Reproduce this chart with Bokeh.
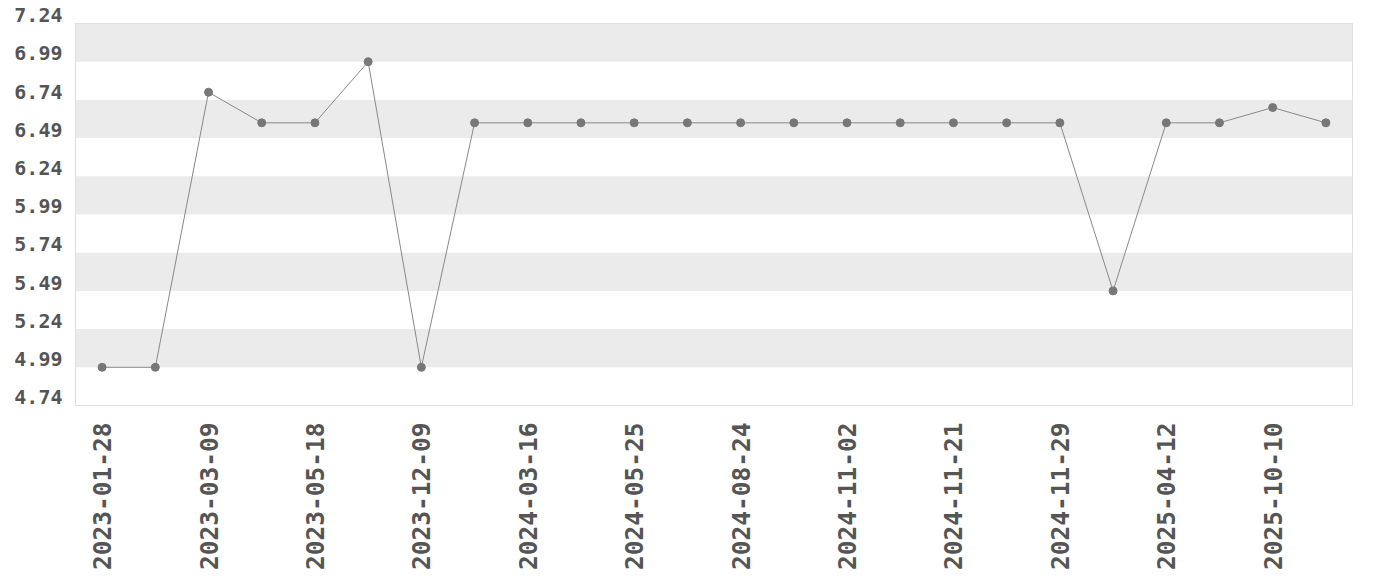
import math
from bokeh.plotting import figure
from bokeh.models import FixedTicker, BoxAnnotation, ColumnDataSource
from bokeh.embed import file_html
from bokeh.resources import INLINE

dates = ["2023-01-28", "2023-02-18", "2023-03-09", "2023-04-15", "2023-05-18", "2023-08-26",
         "2023-12-09", "2024-01-20", "2024-03-16", "2024-04-20", "2024-05-25", "2024-07-06",
         "2024-08-24", "2024-09-28", "2024-11-02", "2024-11-09", "2024-11-21", "2024-11-23",
         "2024-11-29", "2025-01-18", "2025-04-12", "2025-07-12", "2025-10-10", "2026-01-10"]
values = [4.99, 4.99, 6.79, 6.59, 6.59, 6.99,
          4.99, 6.59, 6.59, 6.59, 6.59, 6.59,
          6.59, 6.59, 6.59, 6.59, 6.59, 6.59,
          6.59, 5.49, 6.59, 6.59, 6.69, 6.59]
y_ticks = [4.74, 4.99, 5.24, 5.49, 5.74, 5.99, 6.24, 6.49, 6.74, 6.99, 7.24]

FONT = "DejaVu Sans Mono"
TXT = "#555555"

idx = list(range(len(dates)))
src = ColumnDataSource(dict(x=idx, y=values, date=dates))

p = figure(width=1372, height=578, x_range=(-0.5, len(dates) - 0.5),
           y_range=(y_ticks[0], y_ticks[-1]), output_backend="svg", toolbar_location=None,
           min_border_left=75, min_border_right=20, min_border_top=23, min_border_bottom=173)

p.outline_line_color = "#dddddd"
p.background_fill_color = "white"
p.xgrid.visible = False
p.ygrid.visible = False

for lo, hi in zip(y_ticks[1::2], y_ticks[2::2]):
    p.add_layout(BoxAnnotation(bottom=lo, top=hi, fill_color="#ebebeb", fill_alpha=1.0,
                               line_alpha=0, level="underlay"))

p.line("x", "y", source=src, line_color="#888888", line_width=1)
p.scatter("x", "y", source=src, size=8, fill_color="#777777", line_color="#777777")

for ax in (p.xaxis[0], p.yaxis[0]):
    ax.axis_line_color = None
    ax.major_tick_line_color = None
    ax.minor_tick_line_color = None
    ax.major_tick_out = 0
    ax.major_tick_in = 0
    ax.major_label_text_font = FONT
    ax.major_label_text_font_style = "bold"
    ax.major_label_text_color = TXT

# y labels sit with their baseline on the tick: an empty second line lifts them
p.yaxis.ticker = FixedTicker(ticks=y_ticks)
p.yaxis.major_label_overrides = {t: f"{t:.2f}\n" for t in y_ticks}
p.yaxis.major_label_text_font_size = "20px"
p.yaxis.major_label_text_line_height = 0.7
p.yaxis.major_label_standoff = 13

shown = idx[::2]
p.xaxis.ticker = FixedTicker(ticks=shown)
p.xaxis.major_label_overrides = {i: dates[i] for i in shown}
p.xaxis.major_label_text_font_size = "24.5px"
p.xaxis.major_label_orientation = math.pi / 2
p.xaxis.major_label_standoff = 17

open("out.html", "w").write(file_html(p, INLINE))
